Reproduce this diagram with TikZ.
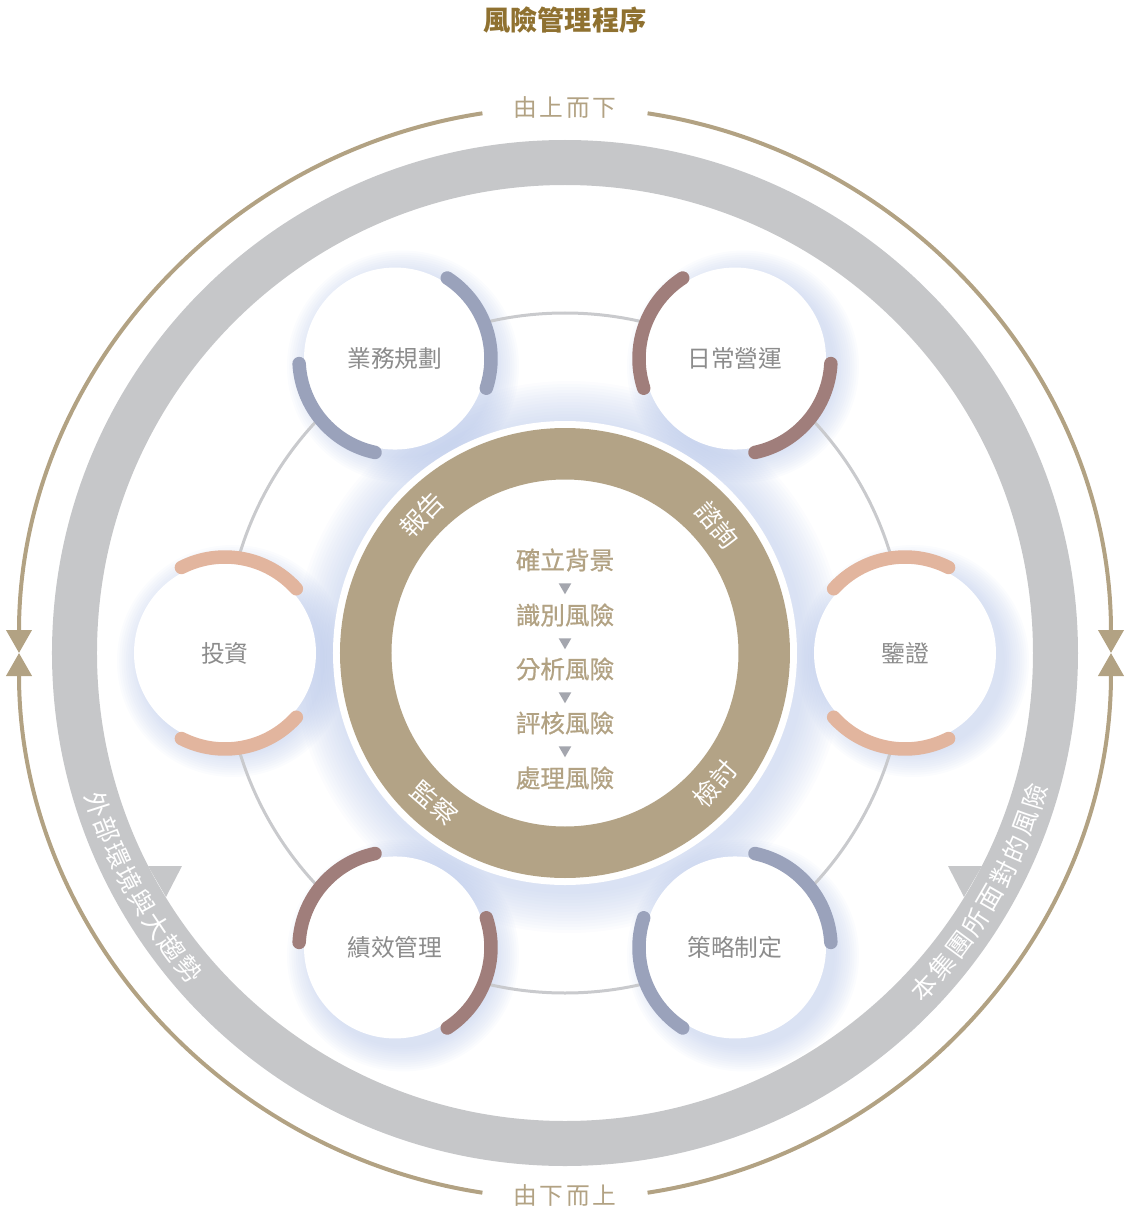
\documentclass[tikz,border=0pt]{standalone}
\usepackage{fontspec}
\setmainfont{Noto Sans CJK TC}
\newfontfamily\cjkwide[LetterSpace=12]{Noto Sans CJK TC}
\newfontfamily\cjkmed[FakeBold=0.8]{Noto Sans CJK TC}
\usepackage{tikz}
\usepackage{xcolor}
\usetikzlibrary{
  positioning, arrows.meta, shapes.geometric, calc,
}
\definecolor{cBrown}   {HTML}{B2A283}
\definecolor{cRing}    {HTML}{B3A386}
\definecolor{cTitle}   {HTML}{8F7130}
\definecolor{cBand}    {HTML}{C6C7C9}
\definecolor{cThin}    {HTML}{C9CACD}
\definecolor{cGlow}    {HTML}{AFC0E6}
\definecolor{cSlate}   {HTML}{9AA2BB}
\definecolor{cMauve}   {HTML}{A07E7B}
\definecolor{cPeach}   {HTML}{E2B59E}
\definecolor{cNodeText}{HTML}{8C8C8C}
\definecolor{cTri}     {HTML}{A4A6AE}

\tikzset{
  unitnode/.style={circle, fill=white, minimum size=36.4mm, inner sep=0pt,
    text=cNodeText, font=\fontsize{13.5}{16}\selectfont},
  unitarc/.style={line width=2.7mm, line cap=round},
  outerarc/.style={draw=cBrown, line width=0.8mm,
    -{Triangle[length=4.6mm, width=5mm]}},
  flowlabel/.style={text=cBrown, font=\cjkwide\fontsize{13.5}{16}\selectfont},
  bandtext/.style={text=white, inner sep=0pt, font=\fontsize{14.5}{16}\selectfont},
  ringlabel/.style={text=white, inner sep=0pt, font=\fontsize{14.5}{16}\selectfont},
  riskstep/.style={text=cBrown, inner sep=0pt, font=\cjkmed\fontsize{14}{16}\selectfont},
  risktri/.style={regular polygon, regular polygon sides=3, shape border rotate=180,
    fill=cTri, inner sep=0pt, minimum size=2.9mm},
}

\begin{document}
\begin{tikzpicture}[x=0.2mm, y=0.2mm]
  \useasboundingbox (-565,-559) rectangle (560,653);

  % title
  \node[text=cTitle, font=\fontsize{15.5}{18}\selectfont\bfseries] (title) at (0,633) {風險管理程序};

  % outer frame: arrows from top and from bottom
  \node[flowlabel] (topdown) at (0,546) {由上而下};
  \node[flowlabel] (bottomup) at (0,-542) {由下而上};
  \draw[outerarc] (98.7:546) arc[start angle=98.7, end angle=180, radius=546];
  \draw[outerarc] (81.3:546) arc[start angle=81.3, end angle=0, radius=546];
  \draw[outerarc] (261.3:546) arc[start angle=261.3, end angle=180, radius=546];
  \draw[outerarc] (278.7:546) arc[start angle=278.7, end angle=360, radius=546];

  % grey band with its two barbs
  \fill[cBand, even odd rule] (0,0) circle (513) (0,0) circle (468);
  \fill[cBand] (-417,-213) -- (-383,-213) -- (-399,-244) -- cycle;
  \fill[cBand] (417,-213) -- (383,-213) -- (399,-244) -- cycle;
  \foreach \ch [count=\j] in {外,部,環,境,與,大,趨,勢} {
    \pgfmathsetmacro\t{198+(\j-1)*3.15}
    \node[bandtext, rotate=\t+90] (ext\j) at (\t:491) {\ch};
  }
  \foreach \ch [count=\j] in {本,集,團,所,面,對,的,風,險} {
    \pgfmathsetmacro\t{-43+(\j-1)*3.25}
    \node[bandtext, rotate=\t+90] (own\j) at (\t:491) {\ch};
  }

  % soft glows
  \foreach \k in {0,...,13}
    \fill[cGlow, opacity=0.045] (4,-4) circle ({276-\k*3});
  \foreach \a in {120,60,0,300,240,180} {
    \foreach \k in {0,...,11}
      \fill[cGlow, opacity=0.05] ($(\a:340)+(8,-8)$) circle ({116-\k*2.2});
  }

  % thin ring through the units
  \draw[cThin, line width=0.6mm] (0,0) circle (340);

  % centre ring
  \fill[white] (0,0) circle (232);
  \fill[cRing, even odd rule] (0,0) circle (225) (0,0) circle (173.5);
  \node[ringlabel, rotate=46] (report) at (136:199) {報告};
  \node[ringlabel, rotate=-50] (consult) at (40:199) {諮詢};
  \node[ringlabel, rotate=-41] (monitor) at (229:199) {監察};
  \node[ringlabel, rotate=49] (review) at (-41:199) {檢討};

  % risk steps
  \node[riskstep] (s1) at (0,93) {確立背景};
  \node[risktri] (t1) at (0,66) {};
  \node[riskstep] (s2) at (0,38) {識別風險};
  \node[risktri] (t2) at (0,11) {};
  \node[riskstep] (s3) at (0,-16) {分析風險};
  \node[risktri] (t3) at (0,-43) {};
  \node[riskstep] (s4) at (0,-70) {評核風險};
  \node[risktri] (t4) at (0,-97) {};
  \node[riskstep] (s5) at (0,-125) {處理風險};

  % the six units
  \foreach \a/\txt/\col [count=\i] in {120/業務規劃/cSlate, 60/日常營運/cMauve,
      0/鑒證/cPeach, 300/策略制定/cSlate, 240/績效管理/cMauve, 180/投資/cPeach} {
    \node[unitnode] (u\i) at (\a:340) {\txt};
    \pgfmathsetmacro\pa{\a+63}
    \pgfmathsetmacro\pb{\a+138}
    \pgfmathsetmacro\qa{\a-138}
    \pgfmathsetmacro\qb{\a-63}
    \draw[unitarc, draw=\col] (u\i.center) ++(\pa:96) arc[start angle=\pa, end angle=\pb, radius=96];
    \draw[unitarc, draw=\col] (u\i.center) ++(\qa:96) arc[start angle=\qa, end angle=\qb, radius=96];
  }
\end{tikzpicture}
\end{document}
